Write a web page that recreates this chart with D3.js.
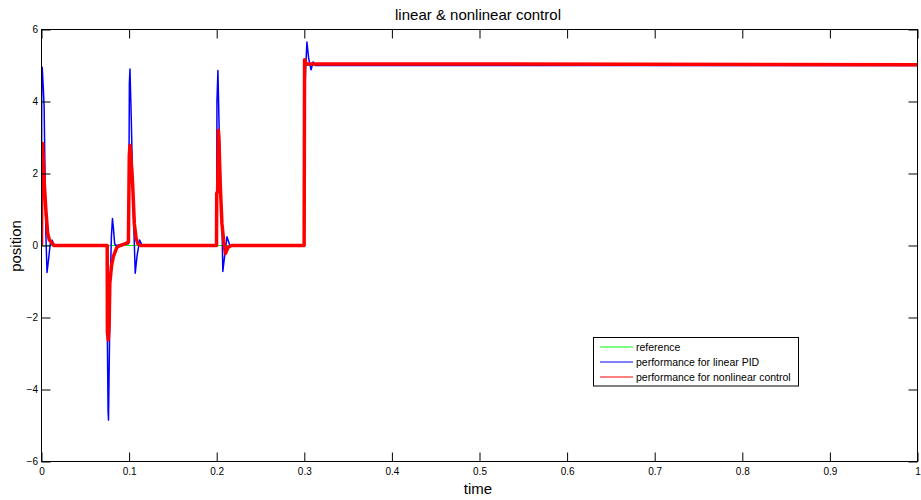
<!DOCTYPE html>
<html>
<head>
<meta charset="utf-8">
<script src="https://cdn.jsdelivr.net/npm/d3@7"></script>
<style>
  html, body { margin: 0; padding: 0; background: #fff; }
  svg { display: block; font-family: "Liberation Sans", Arial, sans-serif; }
</style>
</head>
<body>
<svg id="chart" width="921" height="500"></svg>
<script>
// Time axis ticks and position ticks
const xTicks = [0, 0.1, 0.2, 0.3, 0.4, 0.5, 0.6, 0.7, 0.8, 0.9, 1];
const yTicks = [-6, -4, -2, 0, 2, 4, 6];

// Reference trajectory: hold at 0, then step to 5 at t = 0.3
const refTime  = [0, 0.3, 0.3, 1.0];
const refValue = [0, 0,   5,   5];

// Linear PID response
const pidTime = [
  0, 0.0003, 0.0008, 0.002, 0.003, 0.004, 0.005, 0.0063, 0.008, 0.010, 0.012, 0.015,
  0.0748, 0.0752, 0.0760, 0.0765, 0.0772, 0.0785, 0.0798, 0.0810, 0.0822, 0.0835, 0.085,
  0.0995, 0.1003, 0.1010, 0.1025, 0.104, 0.105, 0.107, 0.109, 0.112, 0.115,
  0.1998, 0.2003, 0.2014, 0.203, 0.2048, 0.206, 0.207, 0.209, 0.2117, 0.215,
  0.2998, 0.3003, 0.3015, 0.303, 0.305, 0.3077, 0.310, 0.313, 1.0
];
const pidValue = [
  0, 4.90, 4.95, 4.40, 3.85, 2.00, 0.30, -0.75, -0.40, 0.05, 0.15, 0.0,
  0.0, -2.60, -4.60, -4.85, -3.50, -1.05, 0.25, 0.75, 0.45, 0.05, 0.0,
  0.05, 4.50, 4.90, 3.50, 1.80, 0.80, -0.77, -0.30, 0.15, 0.0,
  0.0, 4.00, 4.86, 3.00, 1.54, 0.60, -0.72, -0.30, 0.24, 0.0,
  0.0, 3.90, 4.90, 5.65, 5.20, 4.88, 5.10, 5.00, 5.00
];

// Nonlinear controller response
const nlcTime = [
  0, 0.0003, 0.0013, 0.002, 0.0032, 0.005, 0.007, 0.009, 0.011, 0.014,
  0.0750, 0.0752, 0.0762, 0.0772, 0.078, 0.080, 0.082, 0.086, 0.090, 0.096,
  0.0992, 0.1002, 0.1010, 0.102, 0.104, 0.106, 0.108, 0.110, 0.113,
  0.1998, 0.2000, 0.2011, 0.2019, 0.2025, 0.204, 0.206, 0.208, 0.210, 0.213, 0.217,
  0.2998, 0.3003, 0.302, 1.0
];
const nlcValue = [
  0, 2.35, 2.83, 2.40, 1.73, 0.98, 0.35, 0.15, 0.10, 0.0,
  0.0, -2.40, -2.62, -2.20, -1.05, -0.55, -0.31, -0.05, 0.0, 0.05,
  0.10, 2.50, 2.78, 2.50, 1.72, 0.60, 0.20, 0.05, 0.0,
  0.0, 1.45, 1.50, 3.20, 3.00, 1.72, 0.60, 0.12, -0.22, -0.05, 0.0,
  0.0, 5.16, 5.05, 5.02
];

const seriesNames = ["reference", "performance for linear PID", "performance for nonlinear control"];
const seriesColors = ["#00ff00", "#0000ff", "#ff0000"];

const svg = d3.select("#chart");
const plotLeft = 41.5, plotRight = 917.5, plotTop = 29.5, plotBottom = 461.5;

const x = d3.scaleLinear().domain([0, 1]).range([plotLeft, plotRight]);
const y = d3.scaleLinear().domain([-6, 6]).range([plotBottom, plotTop]);

svg.append("rect").attr("width", 921).attr("height", 500).attr("fill", "#fff");

// Plot data, clipped to the axes area
svg.append("clipPath").attr("id", "plotClip")
  .append("rect").attr("x", plotLeft).attr("y", plotTop)
  .attr("width", plotRight - plotLeft).attr("height", plotBottom - plotTop);

const line = d3.line().x(d => x(d[0])).y(d => y(d[1]));
const plot = svg.append("g").attr("clip-path", "url(#plotClip)");

const series = [
  { t: refTime, v: refValue, w: 1 },
  { t: pidTime, v: pidValue, w: 1.5 },
  { t: nlcTime, v: nlcValue, w: 3.5 }
];
series.forEach((s, i) => {
  plot.append("path")
    .datum(s.t.map((t, k) => [t, s.v[k]]))
    .attr("d", line)
    .attr("fill", "none")
    .attr("stroke", seriesColors[i])
    .attr("stroke-width", s.w)
    .attr("stroke-linejoin", "round");
});

// Axes box with inward ticks on all four sides
const tickLen = 9;
const fmtX = d => (d === 0 || d === 1) ? String(d) : d3.format(".1f")(d);

const gB = svg.append("g").attr("transform", `translate(0,${plotBottom})`)
  .call(d3.axisBottom(x).tickValues(xTicks).tickSizeInner(-tickLen).tickSizeOuter(0)
    .tickPadding(6).tickFormat(fmtX));
const gT = svg.append("g").attr("transform", `translate(0,${plotTop})`)
  .call(d3.axisTop(x).tickValues(xTicks).tickSizeInner(-tickLen).tickSizeOuter(0).tickFormat(""));
const gL = svg.append("g").attr("transform", `translate(${plotLeft},0)`)
  .call(d3.axisLeft(y).tickValues(yTicks).tickSizeInner(-tickLen).tickSizeOuter(0)
    .tickPadding(3.5).tickFormat(d3.format("d")));
const gR = svg.append("g").attr("transform", `translate(${plotRight},0)`)
  .call(d3.axisRight(y).tickValues(yTicks).tickSizeInner(-tickLen).tickSizeOuter(0).tickFormat(""));

[gB, gT, gL, gR].forEach(g => {
  g.select(".domain").remove();
  g.selectAll("line").attr("stroke", "#000").attr("stroke-width", 1);
  g.selectAll("text").attr("fill", "#000").style("font-size", "10px")
    .style("font-family", "'Liberation Sans', Arial, sans-serif");
});

svg.append("rect")
  .attr("x", plotLeft).attr("y", plotTop)
  .attr("width", plotRight - plotLeft).attr("height", plotBottom - plotTop)
  .attr("fill", "none").attr("stroke", "#000").attr("stroke-width", 1);

// Title and axis labels
svg.append("text").attr("x", 478).attr("y", 20)
  .attr("text-anchor", "middle").style("font-size", "15px")
  .text("linear & nonlinear control");
svg.append("text").attr("x", 478).attr("y", 494)
  .attr("text-anchor", "middle").style("font-size", "15px")
  .text("time");
svg.append("text")
  .attr("transform", "translate(20.5,246) rotate(-90)")
  .attr("text-anchor", "middle").style("font-size", "15px")
  .text("position");

// Legend
const legend = svg.append("g");
legend.append("rect")
  .attr("x", 593.5).attr("y", 337.5).attr("width", 205).attr("height", 48.5)
  .attr("fill", "#fff").attr("stroke", "#000").attr("stroke-width", 1);
const rowY = [347, 362, 377];
seriesNames.forEach((name, i) => {
  legend.append("line")
    .attr("x1", 600).attr("x2", 633).attr("y1", rowY[i]).attr("y2", rowY[i])
    .attr("stroke", seriesColors[i]).attr("stroke-width", 1);
  legend.append("text")
    .attr("x", 636).attr("y", rowY[i] + 3.8)
    .style("font-size", "10.5px").attr("fill", "#000")
    .text(name);
});
</script>
</body>
</html>
